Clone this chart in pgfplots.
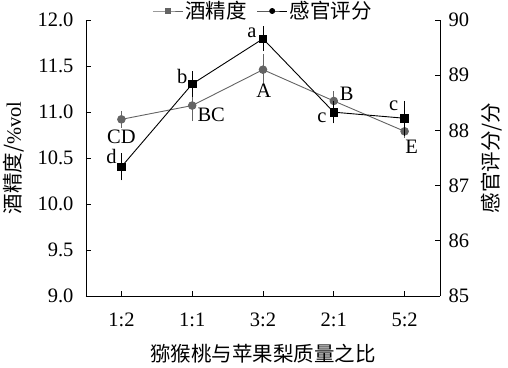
\documentclass[border=0pt]{standalone}
\usepackage{fontspec}
\setmainfont{Liberation Serif}
\newfontfamily\cjk{Noto Sans CJK SC}
\usepackage{pgfplots}
\pgfplotsset{compat=1.18}
\definecolor{sgray}{RGB}{100,100,100}
\begin{document}
\begin{tikzpicture}[font=\fontsize{20.5}{24}\selectfont]
\pgfplotsset{
  common/.style={
    scale only axis, width=354pt, height=276pt,
    xmin=-0.5, xmax=4.5,
    /pgf/number format/assume math mode=true,
    tick style={black, line width=0.8pt}, major tick length=5pt,
    axis line style={line width=0.8pt, -},
    tick align=inside,
  },
  legend image code/.code={\draw[mark repeat=2,mark phase=2] plot coordinates {(0pt,0pt)(15pt,0pt)(30pt,0pt)};},
}
\begin{axis}[common, name=ax,
  ymin=9, ymax=12,
  axis x line*=bottom, axis y line*=left,
  xtick={0,1,2,3,4}, xticklabels={1:2,1:1,3:2,2:1,5:2},
  ytick={9,9.5,10,10.5,11,11.5,12},
  yticklabel style={/pgf/number format/fixed, /pgf/number format/fixed zerofill, /pgf/number format/precision=1, /pgf/number format/assume math mode=true, xshift=-9pt},
  xticklabel style={yshift=-13pt},
  xlabel={\cjk 猕猴桃与苹果梨质量之比},
  ylabel={\cjk 酒精度/\rmfamily\%vol},
  xlabel style={at={(axis description cs:0.5,-0.2101)}, anchor=center},
  ylabel style={at={(axis description cs:-0.2034,0.5)}, anchor=center},
  clip=false,
]
\addplot[sgray, line width=0.9pt, mark=*, mark size=3.8pt,
  error bars/.cd, y dir=both, y explicit,
  error bar style={sgray, line width=0.9pt},
  error mark options={sgray, line width=0.9pt, mark size=3.5pt}]
  coordinates {(0,10.92) +- (0,0.054) (1,11.07) +- (0,0.13) (2,11.46) +- (0,0.13) (3,11.12) +- (0,0.07) (4,10.79) +- (0,0.03)};
\node at (axis cs:0,10.728) {CD};
\node at (axis cs:1.268,10.967) {BC};
\node at (axis cs:2.01,11.228) {A};
\node at (axis cs:3.183,11.196) {B};
\node at (axis cs:4.099,10.62) {E};
\node at (axis cs:-0.141,10.511) {d};
\node at (axis cs:0.859,11.391) {b};
\node at (axis cs:1.845,11.859) {a};
\node at (axis cs:2.831,10.935) {c};
\node at (axis cs:3.845,11.065) {c};
\end{axis}
\begin{axis}[common,
  ymin=85, ymax=90,
  axis x line=none, axis y line*=right,
  ytick={85,86,87,88,89,90},
  yticklabel style={xshift=5pt},
  ylabel={\cjk 感官评分/分},
  ylabel style={at={(axis description cs:1.1469,0.5)}, anchor=center},
  legend columns=2,
  legend style={draw=none, fill=none, at={(0.5,1.0326)}, anchor=center,
    /tikz/every even column/.append style={column sep=8pt},
    font=\fontsize{20.5}{24}\selectfont\cjk, inner sep=0pt},
]
\addlegendimage{sgray, line width=0.9pt, mark=square*, mark size=2.5pt}
\addlegendentry{酒精度}
\addlegendimage{black, line width=0.9pt, mark=*, mark size=2.5pt}
\addlegendentry{感官评分}
\addplot[black, line width=0.9pt, mark=square*, mark size=3.8pt, forget plot,
  error bars/.cd, y dir=both, y explicit,
  error bar style={black, line width=0.9pt},
  error mark options={black, line width=0.9pt, mark size=3.5pt}]
  coordinates {(0,87.34) +- (0,0.18) (1,88.84) +- (0,0.17) (2,89.66) +- (0,0.16) (3,88.33) +- (0,0.14) (4,88.22) +- (0,0.25)};
\end{axis}
\pgfresetboundingbox
\path[use as bounding box] ([shift={(-86pt,-72pt)}]ax.south west) rectangle ([shift={(68pt,20pt)}]ax.north east);
\end{tikzpicture}
\end{document}
